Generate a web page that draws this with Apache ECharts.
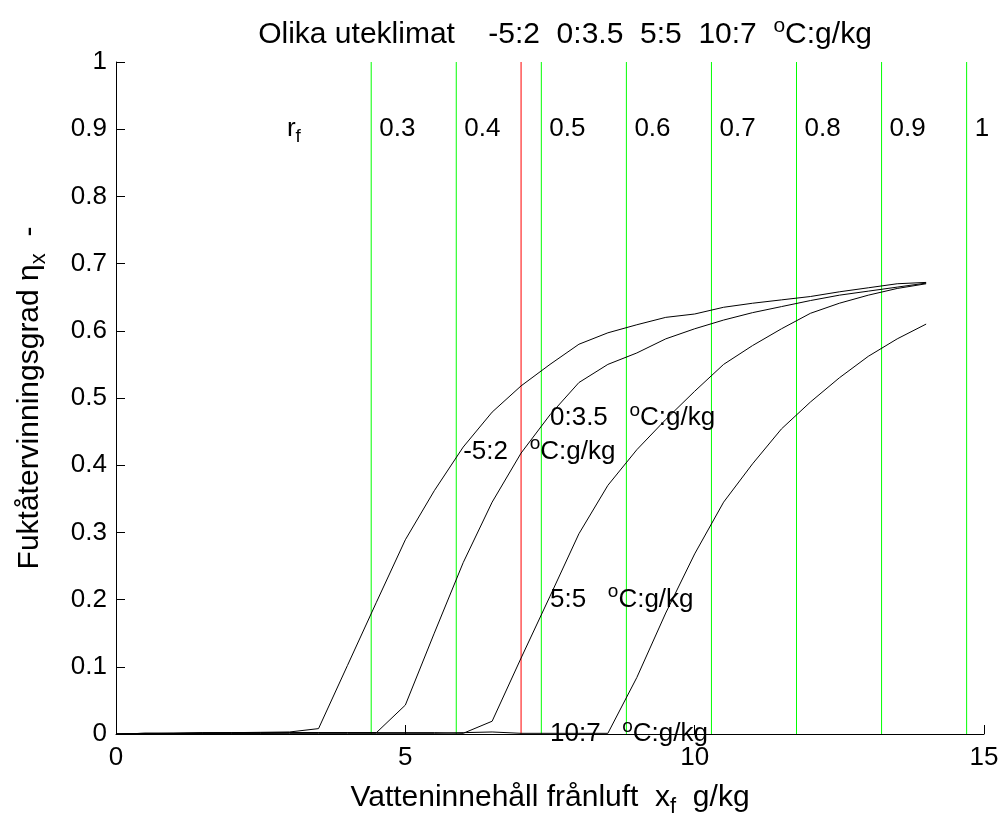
<!DOCTYPE html>
<html>
<head>
<meta charset="utf-8">
<title>Fuktåtervinningsgrad</title>
<script src="https://cdn.jsdelivr.net/npm/echarts@6/dist/echarts.min.js"></script>
<style>
    html, body { margin: 0; padding: 0; background: #fff; }
    #chart { width: 1002px; height: 823px; }
</style>
</head>
<body>
<div id="chart"></div>
<script>
// vatteninnehåll frånluft, g/kg (samma x för alla kurvor)
const xVals = [0, 0.5, 1, 1.5, 2, 2.5, 3, 3.5, 4, 4.5, 5, 5.5, 6, 6.5, 7,
    7.5, 8, 8.5, 9, 9.5, 10, 10.5, 11, 11.5, 12, 12.5, 13, 13.5, 14];

// fuktåtervinningsgrad för olika uteklimat
const etaM5 = [0, 0.0005, 0.001, 0.0015, 0.002, 0.0025, 0.003, 0.008, 0.102, 0.196, 0.289, 0.362, 0.427, 0.479, 0.518,
    0.55, 0.58, 0.597, 0.609, 0.62, 0.625, 0.635, 0.641, 0.646, 0.651, 0.658, 0.664, 0.67, 0.672];
const eta0 = [0, 0.001, 0.001, 0.002, 0.002, 0.002, 0.002, 0.002, 0.002, 0.002, 0.043, 0.15, 0.255, 0.345, 0.418,
    0.475, 0.523, 0.55, 0.567, 0.588, 0.603, 0.616, 0.627, 0.636, 0.645, 0.653, 0.659, 0.665, 0.671];
const eta5 = [0, 0.001, 0.001, 0.001, 0.001, 0.001, 0.002, 0.002, 0.002, 0.002, 0.002, 0.002, 0.001, 0.019, 0.113,
    0.205, 0.298, 0.37, 0.423, 0.468, 0.51, 0.55, 0.578, 0.603, 0.626, 0.641, 0.653, 0.663, 0.67];
const eta10 = [0, 0.001, 0.001, 0.001, 0.001, 0.001, 0.001, 0.001, 0.001, 0.001, 0.001, 0.001, 0.002, 0.003, 0.001,
    0.001, 0.001, 0.001, 0.084, 0.18, 0.268, 0.345, 0.402, 0.454, 0.494, 0.53, 0.562, 0.588, 0.61];

const curveNames = ["-5:2", "0:3.5", "5:5", "10:7"];
const curveLabelX = [6, 7.5, 7.5, 7.5];
const curveLabelY = [0.42, 0.47, 0.2, 0];

// relativ fuktighet frånluft, linjer
const rfValues = ["0.3", "0.4", "0.5", "0.6", "0.7", "0.8", "0.9", "1"];
const rfX = [4.41, 5.88, 7.35, 8.82, 10.29, 11.76, 13.23, 14.7];
const rfLabelY = 0.9;
const redX = 7.0;

const xTicks = [0, 5, 10, 15];

(function() {
    let chart = echarts.init(document.getElementById("chart"), null, { renderer: "canvas" });
    const font = "'Liberation Sans', Arial, sans-serif";
    const rich = {
        t: { fontSize: 26, fontFamily: font, color: "#000", lineHeight: 34 },
        sup: { fontSize: 19, fontFamily: font, color: "#000", verticalAlign: "top", lineHeight: 20 },
        sub: { fontSize: 19, fontFamily: font, color: "#000", verticalAlign: "bottom", lineHeight: 20 }
    };
    const richBig = {
        t: { fontSize: 30, fontFamily: font, color: "#000", lineHeight: 40 },
        sub: { fontSize: 22, fontFamily: font, color: "#000", verticalAlign: "bottom", lineHeight: 22 }
    };
    const richTitle = {
        t: { fontSize: 30, fontFamily: font, color: "#000", lineHeight: 38 },
        sup: { fontSize: 21, fontFamily: font, color: "#000", verticalAlign: "top", lineHeight: 22 }
    };

    let curves = [etaM5, eta0, eta5, eta10].map(function(ys, k) {
        return {
            name: curveNames[k],
            type: "line",
            symbol: "none",
            z: 3,
            lineStyle: { color: "#000", width: 1 },
            data: xVals.map(function(x, i) { return [x, ys[i]]; })
        };
    });

    let rfLines = rfX.map(function(x) {
        return {
            type: "line",
            symbol: "none",
            z: 2,
            lineStyle: { color: "#00ff00", width: 1 },
            data: [[x, 0], [x, 1]]
        };
    });
    rfLines.push({
        type: "line",
        symbol: "none",
        z: 2,
        lineStyle: { color: "#ff0000", width: 1 },
        data: [[redX, 0], [redX, 1]]
    });

    function textPoint(x, y, text, dist) {
        return {
            value: [x, y],
            label: {
                show: true, position: "right", distance: dist,
                color: "#000", opacity: 1,
                formatter: text, rich: rich
            }
        };
    }

    let rfLabels = {
        type: "scatter",
        symbolSize: 0,
        z: 5,
        silent: true,
        itemStyle: { opacity: 1 },
        data: rfX.map(function(x, i) {
            return textPoint(x, rfLabelY, "{t|" + rfValues[i] + "}", 8);
        }).concat([textPoint(2.85, rfLabelY, "{t|r}{sub|f}", 6)])
    };

    let curveLabels = {
        type: "scatter",
        symbolSize: 0,
        z: 5,
        silent: true,
        itemStyle: { opacity: 1 },
        data: curveNames.map(function(n, i) {
            return textPoint(curveLabelX[i], curveLabelY[i], "{t|" + n + "   }{sup|o}{t|C:g/kg}", 0);
        })
    };

    let option = {
        animation: false,
        backgroundColor: "#fff",
        title: {
            text: "{t|Olika uteklimat    -5:2  0:3.5  5:5  10:7  }{sup|o}{t|C:g/kg}",
            left: 560,
            textAlign: "center",
            top: 11,
            textStyle: { rich: richTitle, fontFamily: font, fontWeight: "normal" }
        },
        grid: { left: 116, right: 18, top: 62, bottom: 84, containLabel: false },
        xAxis: {
            type: "value",
            min: 0, max: 15, interval: 5,
            name: "{t|Vatteninnehåll frånluft  x}{sub|f}{t|  g/kg}",
            nameLocation: "middle",
            nameGap: 44,
            nameTextStyle: { rich: richBig },
            axisLine: { show: true, onZero: false, lineStyle: { color: "#000", width: 1 } },
            axisTick: { show: true, inside: true, length: 9, lineStyle: { color: "#000" } },
            axisLabel: {
                color: "#000", fontSize: 26, fontFamily: font, margin: 11,
                formatter: function(v) { return xTicks.indexOf(v) >= 0 ? String(v) : ""; }
            },
            splitLine: { show: false }
        },
        yAxis: {
            type: "value",
            min: 0, max: 1, interval: 0.1,
            name: "{t|Fuktåtervinningsgrad η}{sub|x}{t|  -}",
            nameLocation: "middle",
            nameRotate: 90,
            nameGap: 66,
            nameTextStyle: { rich: richBig },
            axisLine: { show: true, onZero: false, lineStyle: { color: "#000", width: 1 } },
            axisTick: { show: true, inside: true, length: 9, lineStyle: { color: "#000" } },
            axisLabel: { color: "#000", fontSize: 26, fontFamily: font, margin: 9 },
            splitLine: { show: false }
        },
        series: rfLines.concat(curves, [rfLabels, curveLabels])
    };

    chart.setOption(option);
}());
</script>
</body>
</html>
